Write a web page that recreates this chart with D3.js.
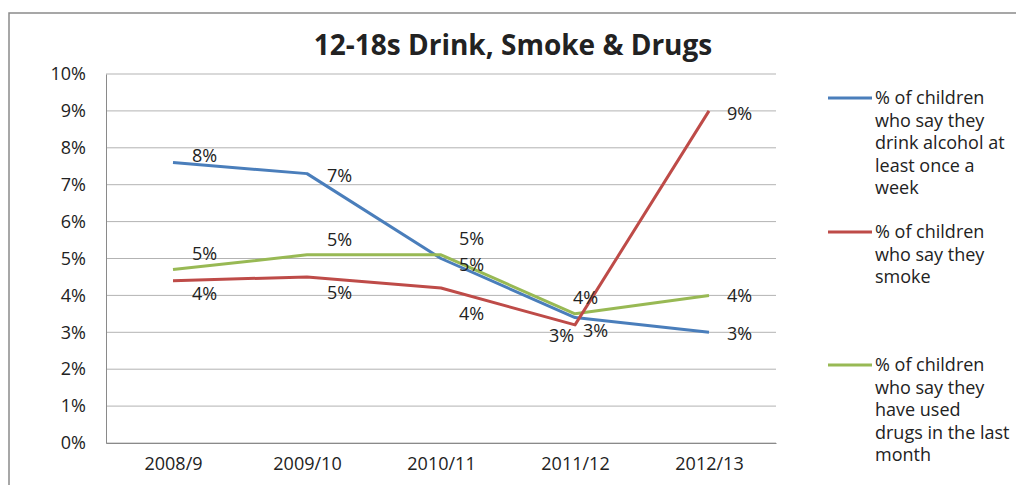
<!DOCTYPE html>
<html><head><meta charset="utf-8">
<script src="https://cdn.jsdelivr.net/npm/d3@7"></script>
<style>
html,body{margin:0;padding:0;background:#fff;}
svg text{font-family:"Open Sans",sans-serif;fill:#222;}
</style></head>
<body>
<svg id="c" width="1016" height="485"></svg>
<script>
const categories = ["2008/9","2009/10","2010/11","2011/12","2012/13"];
const drinkValues = [7.6, 7.3, 5.0, 3.4, 3.0];
const smokeValues = [4.4, 4.5, 4.2, 3.2, 9.0];
const drugsValues = [4.7, 5.1, 5.1, 3.5, 4.0];
const yTicks = [0,1,2,3,4,5,6,7,8,9,10];
const seriesNames = [
  ["% of children","who say they","drink alcohol at","least once a","week"],
  ["% of children","who say they","smoke"],
  ["% of children","who say they","have used","drugs in the last","month"]
];
const titleText = "12-18s Drink, Smoke & Drugs";

const colors = ["#4a7ebb","#be4b48","#98b954"];
const FS = 18;
// label offsets [dx, dy] relative to point (left edge, vertical centre)
const labelOffsets = [
  [[19,-8],[20,1],[18,5],[8,12],[18,1]],
  [[19,12],[20,15],[18,25],[-26,10],[18,2]],
  [[19,-17],[20,-16],[18,-17],[-2,-17],[18,0]]
];

const svg = d3.select("#c");
const M = {left:106, right:776, top:74, bottom:443};

const x = d3.scalePoint().domain(categories).range([M.left, M.right]).padding(0.5);
const y = d3.scaleLinear().domain([0,10]).range([M.bottom, M.top]);

// outer border
svg.append("path").attr("d","M9,485 L9,13 L1016,13").attr("fill","none").attr("stroke","#8a8a8a").attr("stroke-width",1.5);

// title
svg.append("text").attr("x",513).attr("y",55).attr("text-anchor","middle")
  .attr("font-weight","bold").attr("font-size",28).attr("fill","#111").text(titleText);

// gridlines
svg.append("g").selectAll("line").data(yTicks).join("line")
  .attr("x1",M.left).attr("x2",M.right).attr("y1",d=>y(d)).attr("y2",d=>y(d))
  .attr("stroke","#b3b3b3").attr("stroke-width",1);

// y axis
const yAxis = svg.append("g").attr("transform",`translate(${M.left},0)`)
  .call(d3.axisLeft(y).tickValues(yTicks).tickSize(0).tickPadding(20).tickFormat(d=>d+"%"));
yAxis.select(".domain").attr("stroke","#8a8a8a");
yAxis.selectAll("text").attr("font-size",FS).attr("fill","#222").style("font-family","'Open Sans',sans-serif");

// x axis
const xAxis = svg.append("g").attr("transform",`translate(0,${M.bottom})`)
  .call(d3.axisBottom(x).tickSize(0).tickPadding(14));
xAxis.select(".domain").attr("stroke","#8a8a8a");
xAxis.selectAll("text").attr("font-size",FS).attr("fill","#222").style("font-family","'Open Sans',sans-serif");

const allSeries = [drinkValues, smokeValues, drugsValues];
const line = d3.line().x((d,i)=>x(categories[i])).y(d=>y(d));

// draw lines: drink, drugs, smoke order
[0,2,1].forEach(si=>{
  svg.append("path").datum(allSeries[si]).attr("d",line)
    .attr("fill","none").attr("stroke",colors[si]).attr("stroke-width",3)
    .attr("stroke-linejoin","round");
});

// data labels
allSeries.forEach((vals,si)=>{
  svg.append("g").selectAll("text").data(vals).join("text")
    .attr("x",(d,i)=>x(categories[i])+labelOffsets[si][i][0])
    .attr("y",(d,i)=>y(d)+labelOffsets[si][i][1])
    .attr("dominant-baseline","central")
    .attr("font-size",FS)
    .text(d=>Math.round(d)+"%");
});

// legend
const legendY = [97, 231, 364];
seriesNames.forEach((lines,si)=>{
  const g = svg.append("g");
  g.append("line").attr("x1",828).attr("x2",872).attr("y1",legendY[si]+1).attr("y2",legendY[si]+1)
    .attr("stroke",colors[si]).attr("stroke-width",3);
  g.selectAll("text").data(lines).join("text")
    .attr("x",875).attr("y",(d,i)=>legendY[si]+i*22.5)
    .attr("dominant-baseline","central").attr("font-size",FS).text(d=>d);
});
</script>
</body></html>
